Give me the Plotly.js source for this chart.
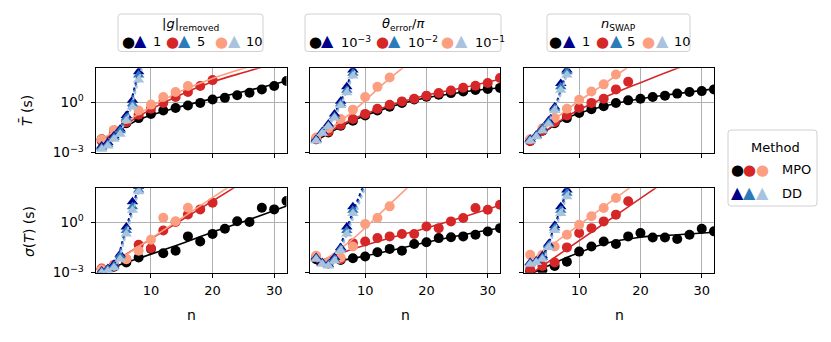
<!DOCTYPE html>
<html><head><meta charset="utf-8">
<script src="https://cdn.plot.ly/plotly-3.0.1.min.js"></script>
<style>html,body{margin:0;padding:0;background:#fff}#chart{width:831px;height:342px}</style>
</head><body><div id="chart"></div>
<script>
// ---------------- DATA (values are log10 of seconds) ----------------
const nMPO = [2,4,6,8,10,12,14,16,18,20,22,24,26,28,30,32];
const nDD = [2,3,4,5,6,7,8];
const nFit = [2,8,14,20,26,32];
const nFitDD = [2,4,6,8,10];

// |g|removed, mean T
const gT_mpo1  = [-2.2,-1.7,-1.25,-0.95,-0.7,-0.5,-0.35,-0.2,-0.05,0.15,0.25,0.4,0.55,0.75,0.95,1.25];
const gT_mpo5  = [-2.3,-1.8,-1.2,-0.75,-0.4,-0.05,0.3,0.6,0.95,1.3];
const gT_mpo10 = [-2.2,-1.65,-1.0,-0.5,-0.15,0.3,0.6,0.95];
const gT_fit1  = [-2.3,-1.05,-0.35,0.2,0.7,1.25];
const gT_fit5  = [-2.35,-0.85,0.3,1.2,1.85,2.5];
const gT_fit10 = [-2.25,-0.7,0.5,1.4,2.1,2.7];
const gT_dd1   = [-2.6,-2.4,-2.0,-1.6,-0.8,0.1,1.8];
const gT_dd5   = [-2.7,-2.5,-2.1,-1.7,-0.95,-0.1,1.6];
const gT_dd10  = [-2.8,-2.6,-2.2,-1.9,-1.1,-0.3,1.3];
const gT_ddf1  = [-2.6,-2.0,-0.8,1.8,4.4];
const gT_ddf5  = [-2.7,-2.1,-0.95,1.6,4.2];
const gT_ddf10 = [-2.8,-2.2,-1.1,1.3,3.9];

// |g|removed, sigma(T)
const gS_mpo1  = [-2.8,-2.65,-2.4,-2.1,-1.6,-1.85,-1.7,-0.85,-1.15,-0.7,-0.4,0.05,0.0,0.85,0.75,1.25];
const gS_mpo5  = [-2.75,-2.55,-2.2,-1.35,-1.55,-0.5,0.0,0.45,0.75,1.15];
const gS_mpo10 = [-2.8,-2.6,-2.2,-1.7,-1.05,0.25,0.05,0.85];
const gS_fit1  = [-2.9,-2.15,-1.4,-0.6,0.15,0.95];
const gS_fit5  = [-2.8,-1.45,-0.1,1.25,2.6,3.95];
const gS_fit10 = [-2.9,-1.45,0.0,1.45,2.9,4.35];
const gS_dd1   = [-2.9,-2.75,-2.5,-1.9,-0.3,1.2,2.1];
const gS_dd5   = [-2.95,-2.8,-2.6,-2.0,-0.5,0.9,1.9];
const gS_dd10  = [-3.0,-2.9,-2.7,-2.2,-0.7,0.7,1.8];
const gS_ddf1  = [-2.9,-2.5,-0.3,2.1,4.5];
const gS_ddf5  = [-2.95,-2.6,-0.5,1.9,4.3];
const gS_ddf10 = [-3.0,-2.7,-0.7,1.8,4.2];

// theta_error/pi, mean T
const eT_mpo1  = [-2.2,-1.8,-1.4,-1.1,-0.8,-0.5,-0.28,-0.05,0.15,0.32,0.43,0.53,0.63,0.72,0.78,0.84];
const eT_mpo5  = [-2.2,-1.75,-1.35,-1.0,-0.7,-0.4,-0.16,0.04,0.2,0.38,0.53,0.68,0.85,0.97,1.13,1.43];
const eT_mpo10 = [-2.1,-1.55,-1.0,-0.45,0.3,0.9,1.45];
const eT_fit1  = [-2.3,-1.1,-0.3,0.25,0.6,0.85];
const eT_fit5  = [-2.2,-1.0,-0.2,0.4,0.85,1.35];
const eT_fit10 = [-2.2,-0.55,1.4,3.1,4.8,6.5];
const eT_dd1   = [-2.2,-1.75,-1.3,-0.7,0.05,0.9,1.9];
const eT_dd5   = [-2.25,-1.8,-1.4,-0.85,-0.1,0.7,1.7];
const eT_dd10  = [-2.3,-1.85,-1.45,-0.95,-0.2,0.55,1.55];
const eT_ddf1  = [-2.2,-1.3,0.05,1.9,3.8];
const eT_ddf5  = [-2.25,-1.4,-0.1,1.7,3.6];
const eT_ddf10 = [-2.3,-1.45,-0.2,1.55,3.4];

// theta_error/pi, sigma(T)
const eS_mpo1  = [-2.2,-2.45,-2.25,-2.14,-2.04,-1.79,-1.59,-1.7,-1.3,-1.2,-0.95,-0.9,-0.85,-0.75,-0.56,-0.36];
const eS_mpo5  = [-2.05,-2.4,-2.2,-1.25,-1.15,-0.95,-0.85,-0.71,-0.71,-0.26,-0.36,0.04,0.24,0.83,0.73,1.03];
const eS_mpo10 = [-2.0,-2.4,-2.1,-1.45,-0.12,0.24,0.93];
const eS_fit1  = [-2.5,-2.15,-1.7,-1.2,-0.75,-0.35];
const eS_fit5  = [-2.4,-1.6,-0.95,-0.35,0.3,1.0];
const eS_fit10 = [-2.6,-1.0,1.05,3.1,5.1,7.1];
const eS_dd1   = [-2.1,-2.4,-2.5,-2.1,-1.5,-0.3,0.9];
const eS_dd5   = [-2.15,-2.45,-2.55,-2.2,-1.6,-0.5,0.7];
const eS_dd10  = [-2.2,-2.5,-2.6,-2.3,-1.7,-0.7,0.5];
const eS_ddf1  = [-2.1,-2.5,-1.3,0.6,2.4];
const eS_ddf5  = [-2.15,-2.55,-1.45,0.4,2.2];
const eS_ddf10 = [-2.2,-2.6,-1.6,0.2,2.0];

// n_SWAP, mean T
const sT_mpo1  = [-2.3,-1.7,-1.25,-0.95,-0.65,-0.42,-0.25,-0.06,0.1,0.2,0.3,0.38,0.5,0.6,0.65,0.75];
const sT_mpo5  = [-2.3,-1.7,-1.2,-0.8,-0.35,-0.05,0.2,0.75,1.2];
const sT_mpo10 = [-2.2,-1.55,-0.95,-0.4,0.14,0.63,1.05,1.63];
const sT_fit1  = [-2.4,-0.95,-0.25,0.2,0.5,0.78];
const sT_fit5  = [-2.4,-0.85,0.25,1.15,2.0,2.8];
const sT_fit10 = [-2.3,-0.45,1.05,2.6,4.1,5.6];
const sT_dd1   = [-2.2,-1.95,-1.55,-1.1,-0.3,1.1,1.9];
const sT_dd5   = [-2.25,-2.0,-1.6,-1.2,-0.4,0.9,1.8];
const sT_dd10  = [-2.3,-2.05,-1.7,-1.3,-0.5,0.7,1.6];
const sT_ddf1  = [-2.2,-1.55,-0.3,1.9,4.1];
const sT_ddf5  = [-2.25,-1.6,-0.4,1.8,4.0];
const sT_ddf10 = [-2.3,-1.7,-0.5,1.6,3.8];

// n_SWAP, sigma(T)
const sS_mpo1  = [-2.95,-2.85,-2.6,-2.35,-1.75,-1.45,-1.15,-1.3,-0.85,-0.65,-0.91,-0.91,-1.0,-0.75,-0.4,-0.55];
const sS_mpo5  = [-2.8,-2.6,-2.4,-1.5,-0.65,-0.36,0.04,0.44,1.23];
const sS_mpo10 = [-1.94,-1.94,-1.45,-0.75,-0.16,0.34,0.83,1.43];
const sS_fit1  = [-3.1,-2.1,-1.3,-0.9,-0.75,-0.6];
const sS_fit5  = [-3.1,-1.6,-0.1,1.4,2.9,4.4];
const sS_fit10 = [-2.3,-0.7,0.9,2.5,4.1,5.7];
const sS_dd1   = [-2.4,-2.3,-2.0,-1.3,-0.2,0.9,1.9];
const sS_dd5   = [-2.45,-2.35,-2.1,-1.4,-0.35,0.7,1.7];
const sS_dd10  = [-2.5,-2.4,-2.2,-1.5,-0.5,0.5,1.5];
const sS_ddf1  = [-2.4,-2.0,-0.2,1.9,4.0];
const sS_ddf5  = [-2.45,-2.1,-0.35,1.7,3.8];
const sS_ddf10 = [-2.5,-2.2,-0.5,1.5,3.6];

const legendTitles = ['|<i>g</i>|<sub>removed</sub>', '<i>θ</i><sub>error</sub>/<i>π</i>', '<i>n</i><sub>SWAP</sub>'];
const legendLabels = [['1','5','10'], ['10<sup>−3</sup>','10<sup>−2</sup>','10<sup>−1</sup>'], ['1','5','10']];
const methodLabels = ['MPO','DD'];

// ---------------- STYLE ----------------
const mpoColors = ['#000000','#d62728','#fc9f80'];
const ddColors  = ['#00008b','#2b7bba','#a9c2de'];
const FONT = 'DejaVu Sans, sans-serif';
const W = 831, H = 342;
const px = x => x / W, py = y => 1 - y / H;
const colX = [[95.5,286.5],[310,500],[524,714]];
const rowY = [[68.3,152.7],[188.3,272.7]];

const panels = [
  {mpo:[gT_mpo1,gT_mpo5,gT_mpo10], fit:[gT_fit1,gT_fit5,gT_fit10], dd:[gT_dd1,gT_dd5,gT_dd10], ddf:[gT_ddf1,gT_ddf5,gT_ddf10]},
  {mpo:[eT_mpo1,eT_mpo5,eT_mpo10], fit:[eT_fit1,eT_fit5,eT_fit10], dd:[eT_dd1,eT_dd5,eT_dd10], ddf:[eT_ddf1,eT_ddf5,eT_ddf10]},
  {mpo:[sT_mpo1,sT_mpo5,sT_mpo10], fit:[sT_fit1,sT_fit5,sT_fit10], dd:[sT_dd1,sT_dd5,sT_dd10], ddf:[sT_ddf1,sT_ddf5,sT_ddf10]},
  {mpo:[gS_mpo1,gS_mpo5,gS_mpo10], fit:[gS_fit1,gS_fit5,gS_fit10], dd:[gS_dd1,gS_dd5,gS_dd10], ddf:[gS_ddf1,gS_ddf5,gS_ddf10]},
  {mpo:[eS_mpo1,eS_mpo5,eS_mpo10], fit:[eS_fit1,eS_fit5,eS_fit10], dd:[eS_dd1,eS_dd5,eS_dd10], ddf:[eS_ddf1,eS_ddf5,eS_ddf10]},
  {mpo:[sS_mpo1,sS_mpo5,sS_mpo10], fit:[sS_fit1,sS_fit5,sS_fit10], dd:[sS_dd1,sS_dd5,sS_dd10], ddf:[sS_ddf1,sS_ddf5,sS_ddf10]}
];

const toVal = a => a.map(v => Math.pow(10, v));
const traces = [];
const layout = {
  width: W, height: H, margin: {l:0,r:0,t:0,b:0},
  paper_bgcolor: '#fff', plot_bgcolor: '#fff', showlegend: false,
  font: {family: FONT, size: 13, color: '#000'},
  annotations: [], shapes: []
};

panels.forEach((p, i) => {
  const r = i < 3 ? 0 : 1, c = i % 3, k = i + 1;
  const xa = k === 1 ? 'x' : 'x' + k, ya = k === 1 ? 'y' : 'y' + k;
  for (let s = 0; s < 3; s++) {
    traces.push({x: nMPO.slice(0, p.mpo[s].length), y: toVal(p.mpo[s]), xaxis: xa, yaxis: ya,
      type: 'scatter', mode: 'markers', marker: {symbol: 'circle', size: 10, color: mpoColors[s]},
      cliponaxis: true, hoverinfo: 'skip'});
    traces.push({x: nFit, y: toVal(p.fit[s]), xaxis: xa, yaxis: ya, type: 'scatter', mode: 'lines',
      line: {color: mpoColors[s], width: 1.6, shape: 'spline'}, hoverinfo: 'skip'});
  }
  for (let s = 0; s < 3; s++) {
    traces.push({x: nDD.slice(0, p.dd[s].length), y: toVal(p.dd[s]), xaxis: xa, yaxis: ya,
      type: 'scatter', mode: 'markers', marker: {symbol: 'triangle-up', size: 10, color: ddColors[s]},
      cliponaxis: true, hoverinfo: 'skip'});
    traces.push({x: nFitDD, y: toVal(p.ddf[s]), xaxis: xa, yaxis: ya, type: 'scatter', mode: 'lines',
      line: {color: ddColors[s], width: 2, dash: 'dot', shape: 'spline'}, hoverinfo: 'skip'});
  }
  layout['xaxis' + (k === 1 ? '' : k)] = {
    domain: [px(colX[c][0]), px(colX[c][1])], anchor: ya, range: [1, 32],
    tickvals: [10, 20, 30], showticklabels: r === 1, ticks: 'outside', ticklen: 4, tickwidth: 1,
    tickcolor: '#000', ticklabelstandoff: 2,
    showgrid: true, gridcolor: '#b0b0b0', gridwidth: 1, zeroline: false,
    showline: true, linecolor: '#000', linewidth: 1, mirror: true,
    tickfont: {family: FONT, size: 13, color: '#000'}, fixedrange: true
  };
  layout['yaxis' + (k === 1 ? '' : k)] = {
    domain: [py(rowY[r][1]), py(rowY[r][0])], anchor: xa, type: 'log', range: [-3, 2],
    tickvals: [0.001, 1], ticktext: ['10<sup>−3</sup>', '10<sup>0</sup>'],
    showticklabels: c === 0, ticks: 'outside', ticklen: 4, tickwidth: 1, tickcolor: '#000',
    ticklabelstandoff: 4,
    showgrid: true, gridcolor: '#b0b0b0', gridwidth: 1, zeroline: false,
    showline: true, linecolor: '#000', linewidth: 1, mirror: true,
    tickfont: {family: FONT, size: 13.5, color: '#000'}, fixedrange: true
  };
});

function ann(x, y, text, opts) {
  layout.annotations.push(Object.assign({xref: 'paper', yref: 'paper', x: px(x), y: py(y), text: text,
    showarrow: false, xanchor: 'center', yanchor: 'middle', font: {family: FONT, size: 13, color: '#000'}}, opts || {}));
}
function roundBox(x0, y0, x1, y1, rad) {
  const X = v => px(v), Y = v => py(v);
  const d = `M ${X(x0+rad)} ${Y(y0)} L ${X(x1-rad)} ${Y(y0)} Q ${X(x1)} ${Y(y0)} ${X(x1)} ${Y(y0+rad)} ` +
    `L ${X(x1)} ${Y(y1-rad)} Q ${X(x1)} ${Y(y1)} ${X(x1-rad)} ${Y(y1)} L ${X(x0+rad)} ${Y(y1)} ` +
    `Q ${X(x0)} ${Y(y1)} ${X(x0)} ${Y(y1-rad)} L ${X(x0)} ${Y(y0+rad)} Q ${X(x0)} ${Y(y0)} ${X(x0+rad)} ${Y(y0)} Z`;
  layout.shapes.push({type: 'path', xref: 'paper', yref: 'paper', path: d,
    line: {color: '#d0d0d0', width: 1}, fillcolor: 'rgba(255,255,255,0.8)', layer: 'above'});
}

// axis titles
ann(26, 111, '<i>T\u0304</i> (s)', {textangle: -90, font: {family: FONT, size: 14, color: '#000'}});
ann(29, 232, '<i>σ</i>(<i>T</i>) (s)', {textangle: -90, font: {family: FONT, size: 14, color: '#000'}});
colX.forEach(cx => ann((cx[0] + cx[1]) / 2, 315, 'n', {font: {family: FONT, size: 14, color: '#000'}}));

// top legends
const legBoxes = [
  {box: [118, 14, 263, 51.5], tcx: 190, circ: [128, 172, 221], tri: [140.5, 184.5, 234], lab: [151, 195, 244]},
  {box: [305, 14, 501, 51.5], tcx: 403, circ: [315, 382, 448], tri: [327.5, 394.5, 461], lab: [339, 406, 473]},
  {box: [547, 14, 690, 51.5], tcx: 618, circ: [555, 602, 648], tri: [569, 616, 662.5], lab: [580, 625, 672]}
];
legBoxes.forEach((L, j) => {
  roundBox(L.box[0], L.box[1], L.box[2], L.box[3], 3);
  ann(L.tcx, 25, legendTitles[j]);
  for (let s = 0; s < 3; s++) {
    ann(L.circ[s], 42, '●', {font: {family: FONT, size: 15, color: mpoColors[s]}});
    ann(L.tri[s], 41, '▲', {font: {family: FONT, size: 16, color: ddColors[s]}});
    ann(L.lab[s], 42, legendLabels[j][s], {xanchor: 'left'});
  }
});

// method legend
roundBox(728, 130, 817, 206, 3);
ann(775, 147, 'Method', {font: {family: FONT, size: 13, color: '#000'}});
[737, 749.5, 762].forEach((x, s) => {
  ann(x, 170, '●', {font: {family: FONT, size: 15, color: mpoColors[s]}});
  ann(x, 192, '▲', {font: {family: FONT, size: 16, color: ddColors[s]}});
});
ann(780, 170, methodLabels[0], {xanchor: 'left'});
ann(780, 193, methodLabels[1], {xanchor: 'left'});

Plotly.newPlot('chart', traces, layout, {staticPlot: true, displayModeBar: false});
</script>
</body></html>
